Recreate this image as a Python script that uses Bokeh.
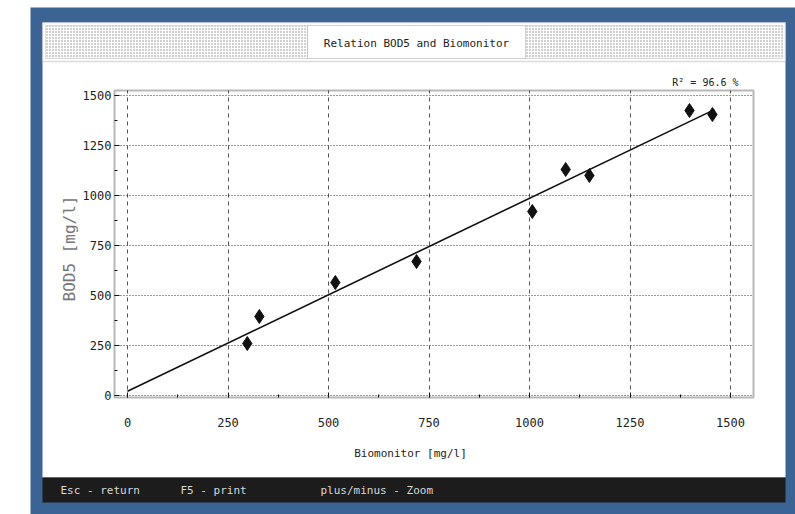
import numpy as np
from bokeh.plotting import figure
from bokeh.models import (BoxAnnotation, Label, Range1d, FixedTicker, LinearAxis,
                          Grid)
from bokeh.embed import file_html
from bokeh.resources import INLINE

# ---- data ----
biomonitor = [298, 328, 517, 719, 1007, 1090, 1149, 1398, 1455]
bod5 = [260, 395, 565, 670, 920, 1130, 1100, 1425, 1405]
tick_values = [0, 250, 500, 750, 1000, 1250, 1500]
tick_labels = ["0", "250", "500", "750", "1000", "1250", "1500"]
minor_tick_values = [125, 375, 625, 875, 1125, 1375]
fit_x_extent = [0, 1460]
r2_text = "R² = 96.6 %"
title_text = "Relation BOD5 and Biomonitor"
x_title = "Biomonitor [mg/l]"
y_title = "BOD5 [mg/l]"
status_items = ["Esc - return", "F5 - print", "plus/minus - Zoom"]

# ---- page geometry (pixels) ----
W, H = 795, 514
MONO = "DejaVu Sans Mono"
BLUE = "#3b6494"
X0_PX, KX = 127, 0.402     # pixel of x=0, pixels per unit
Y0_PX, KY = 395, 0.2       # pixel of y=0, pixels per unit
FRAME_L, FRAME_R, FRAME_T, FRAME_B = 114, 753, 90, 397

def dx(px):
    return (px - X0_PX) / KX

def dy(py):
    return (Y0_PX - py) / KY

x_lo, x_hi = dx(FRAME_L), dx(FRAME_R)
y_lo, y_hi = dy(FRAME_B), dy(FRAME_T)

p = figure(width=W, height=H, output_backend="svg", toolbar_location=None,
           x_range=Range1d(dx(0), dx(W)), y_range=Range1d(dy(H), dy(0)),
           x_axis_location=None, y_axis_location=None,
           min_border_left=0, min_border_right=0, min_border_top=0,
           min_border_bottom=0)
p.outline_line_color = None
p.background_fill_color = "white"
p.border_fill_color = "white"
# drop the default full-canvas grids
p.center = [r for r in p.center if not isinstance(r, Grid)]

# ---- window decorations (canvas pixel units) ----
def box(l, r, t, b, level="image", **kw):
    ba = BoxAnnotation(left=l, right=r, top=t, bottom=b,
                       left_units="canvas", right_units="canvas",
                       top_units="canvas", bottom_units="canvas",
                       level=level, **kw)
    p.add_layout(ba)
    return ba

box(30, W, 7, H, fill_color=BLUE, fill_alpha=1, line_color=None)
box(42, 785, 22, 477, fill_color="white", fill_alpha=1, line_color=None)
box(42, 785, 477, 502, fill_color="#1c1c1c", fill_alpha=1, line_color=None)
box(42, 785, 22, 61, fill_color="white", fill_alpha=1, line_color="#8a8a8a",
    line_width=1.5)
box(45, 307, 25, 58, fill_color="white", fill_alpha=1, line_color="#9a9a9a",
    hatch_pattern=".", hatch_color="#8c8c8c", hatch_scale=3, hatch_weight=1)
box(307, 525, 25, 58, fill_color="white", fill_alpha=1, line_color="#666666")
box(525, 782, 25, 58, fill_color="white", fill_alpha=1, line_color="#9a9a9a",
    hatch_pattern=".", hatch_color="#8c8c8c", hatch_scale=3, hatch_weight=1)

# ---- grid, limited to the plot area ----
ticker = FixedTicker(ticks=tick_values, minor_ticks=minor_tick_values)
xg = Grid(dimension=0, ticker=ticker, grid_line_color="#555555",
          grid_line_dash="4 4", grid_line_width=1, cross_bounds=(y_lo, y_hi))
yg = Grid(dimension=1, ticker=ticker, grid_line_color="#333333",
          grid_line_dash="1 2", grid_line_width=1, cross_bounds=(x_lo, x_hi))
p.add_layout(xg)
p.add_layout(yg)

# ---- axes at the plot-area edges ----
xax = LinearAxis(fixed_location=y_lo, bounds=(x_lo, x_hi))
yax = LinearAxis(fixed_location=x_lo, bounds=(y_lo, y_hi))
for ax in (xax, yax):
    ax.ticker = ticker
    ax.major_label_overrides = {v: t for v, t in zip(tick_values, tick_labels)}
    ax.axis_line_color = None
    ax.major_tick_in = 5
    ax.major_tick_out = 0
    ax.minor_tick_in = 3
    ax.minor_tick_out = 0
    ax.major_tick_line_color = "#111111"
    ax.minor_tick_line_color = "#111111"
    ax.major_label_text_font = MONO
    ax.major_label_text_font_size = "12px"
    ax.major_label_text_color = "#222222"
xax.major_label_standoff = 20
yax.major_label_standoff = 3
p.add_layout(xax, "below")
p.add_layout(yax, "left")

# ---- regression line and points ----
slope, intercept = np.polyfit(biomonitor, bod5, 1)
fit_y = [intercept + slope * x for x in fit_x_extent]
p.line(fit_x_extent, fit_y, line_color="#111111", line_width=1.6)
p.scatter(biomonitor, bod5, marker="diamond", size=14, fill_color="#111111",
          line_color="#111111")

# plot-area outline
box(FRAME_L, FRAME_R, FRAME_T, FRAME_B, level="annotation", fill_color=None,
    line_color="#111111", line_width=2)

def label(x, y, text, size, align="left", color="#222222", angle=0.0):
    lb = Label(x=x, y=y, x_units="canvas", y_units="canvas", text=text,
               text_font=MONO, text_font_size=size, text_color=color,
               text_align=align, text_baseline="middle", angle=angle)
    p.add_layout(lb)

label(416, 43, title_text, "11px", align="center")
label(738, 82, r2_text, "10px", align="right")
label(410, 453, x_title, "11px", align="center")
label(69, 248, y_title, "16px", align="center", color="#777777", angle=np.pi / 2)
for x0, t in zip([60, 180, 320], status_items):
    label(x0, 490, t, "11px", color="#d8d8d8")

open("out.html", "w").write(file_html(p, INLINE))
